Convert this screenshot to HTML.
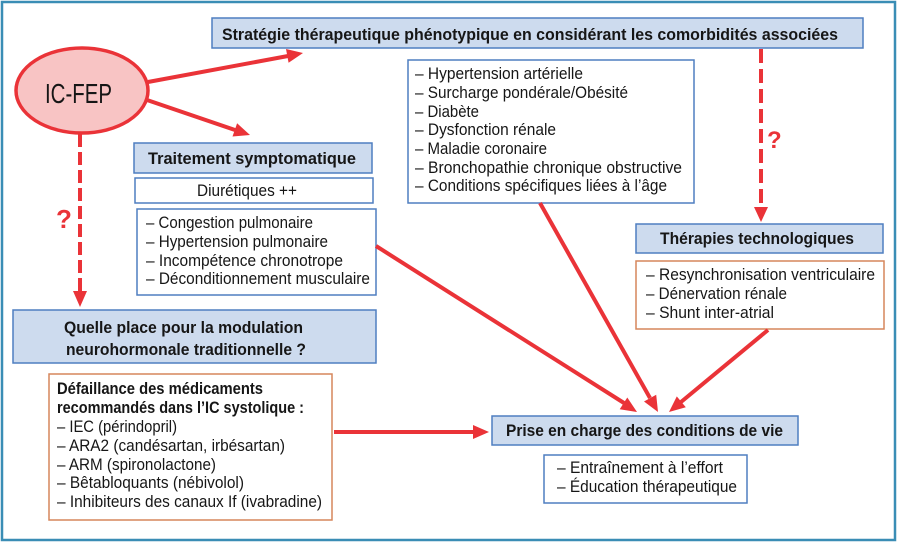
<!DOCTYPE html>
<html><head><meta charset="utf-8"><style>
html,body{margin:0;padding:0;background:#fff;}
svg{display:block;}
text{font-family:"Liberation Sans",Arial,sans-serif;fill:#161616;}
.b{font-weight:bold;font-size:16.5px;}
.r{font-size:16.5px;}
</style></head><body>
<svg width="898" height="543" viewBox="0 0 898 543" xmlns="http://www.w3.org/2000/svg">
<rect x="2" y="2" width="893" height="538" fill="#fff" stroke="#3a8db5" stroke-width="2.5"/>

<!-- boxes -->
<rect x="212" y="18" width="651" height="30" fill="#cddbee" stroke="#4f7ec0" stroke-width="1.5"/>
<text class="b" x="222" y="40" textLength="616" lengthAdjust="spacingAndGlyphs">Stratégie thérapeutique phénotypique en considérant les comorbidités associées</text>

<rect x="134" y="143" width="238" height="30" fill="#cddbee" stroke="#4f7ec0" stroke-width="1.5"/>
<text class="b" x="148" y="164" textLength="208" lengthAdjust="spacingAndGlyphs">Traitement symptomatique</text>

<rect x="135" y="178" width="238" height="25" fill="#fff" stroke="#4f7ec0" stroke-width="1.5"/>
<text class="r" x="197" y="196" textLength="100" lengthAdjust="spacingAndGlyphs">Diurétiques ++</text>

<rect x="137" y="209" width="239" height="86" fill="#fff" stroke="#4f7ec0" stroke-width="1.5"/>
<text class="r" x="146" y="228" textLength="167" lengthAdjust="spacingAndGlyphs">– Congestion pulmonaire</text>
<text class="r" x="146" y="247" textLength="182" lengthAdjust="spacingAndGlyphs">– Hypertension pulmonaire</text>
<text class="r" x="146" y="266" textLength="197" lengthAdjust="spacingAndGlyphs">– Incompétence chronotrope</text>
<text class="r" x="146" y="284" textLength="224" lengthAdjust="spacingAndGlyphs">– Déconditionnement musculaire</text>

<rect x="13" y="310" width="363" height="53" fill="#cddbee" stroke="#4f7ec0" stroke-width="1.5"/>
<text class="b" x="64" y="333" textLength="239" lengthAdjust="spacingAndGlyphs">Quelle place pour la modulation</text>
<text class="b" x="66" y="355" textLength="240" lengthAdjust="spacingAndGlyphs">neurohormonale traditionnelle ?</text>

<rect x="49" y="374" width="283" height="146" fill="#fff" stroke="#d6865b" stroke-width="1.5"/>
<text class="b" x="57" y="394" textLength="206" lengthAdjust="spacingAndGlyphs">Défaillance des médicaments</text>
<text class="b" x="57" y="413" textLength="247" lengthAdjust="spacingAndGlyphs">recommandés dans l’IC systolique :</text>
<text class="r" x="57" y="432" textLength="120" lengthAdjust="spacingAndGlyphs">– IEC (périndopril)</text>
<text class="r" x="57" y="451" textLength="228" lengthAdjust="spacingAndGlyphs">– ARA2 (candésartan, irbésartan)</text>
<text class="r" x="57" y="470" textLength="159" lengthAdjust="spacingAndGlyphs">– ARM (spironolactone)</text>
<text class="r" x="57" y="488" textLength="187" lengthAdjust="spacingAndGlyphs">– Bêtabloquants (nébivolol)</text>
<text class="r" x="57" y="507" textLength="265" lengthAdjust="spacingAndGlyphs">– Inhibiteurs des canaux If (ivabradine)</text>

<rect x="408" y="60" width="286" height="143" fill="#fff" stroke="#4f7ec0" stroke-width="1.5"/>
<text class="r" x="415" y="79" textLength="168" lengthAdjust="spacingAndGlyphs">– Hypertension artérielle</text>
<text class="r" x="415" y="98" textLength="213" lengthAdjust="spacingAndGlyphs">– Surcharge pondérale/Obésité</text>
<text class="r" x="415" y="117" textLength="64" lengthAdjust="spacingAndGlyphs">– Diabète</text>
<text class="r" x="415" y="135" textLength="141" lengthAdjust="spacingAndGlyphs">– Dysfonction rénale</text>
<text class="r" x="415" y="154" textLength="132" lengthAdjust="spacingAndGlyphs">– Maladie coronaire</text>
<text class="r" x="415" y="173" textLength="267" lengthAdjust="spacingAndGlyphs">– Bronchopathie chronique obstructive</text>
<text class="r" x="415" y="191" textLength="252" lengthAdjust="spacingAndGlyphs">– Conditions spécifiques liées à l’âge</text>

<rect x="636" y="224" width="247" height="29" fill="#cddbee" stroke="#4f7ec0" stroke-width="1.5"/>
<text class="b" x="660" y="244" textLength="194" lengthAdjust="spacingAndGlyphs">Thérapies technologiques</text>

<rect x="636" y="261" width="248" height="68" fill="#fff" stroke="#d6865b" stroke-width="1.5"/>
<text class="r" x="646" y="280" textLength="229" lengthAdjust="spacingAndGlyphs">– Resynchronisation ventriculaire</text>
<text class="r" x="646" y="299" textLength="141" lengthAdjust="spacingAndGlyphs">– Dénervation rénale</text>
<text class="r" x="646" y="318" textLength="128" lengthAdjust="spacingAndGlyphs">– Shunt inter-atrial</text>

<rect x="492" y="416" width="306" height="29" fill="#cddbee" stroke="#4f7ec0" stroke-width="1.5"/>
<text class="b" x="506" y="436" textLength="277" lengthAdjust="spacingAndGlyphs">Prise en charge des conditions de vie</text>

<rect x="544" y="455" width="203" height="48" fill="#fff" stroke="#4f7ec0" stroke-width="1.5"/>
<text class="r" x="557" y="473" textLength="166" lengthAdjust="spacingAndGlyphs">– Entraînement à l’effort</text>
<text class="r" x="557" y="492" textLength="180" lengthAdjust="spacingAndGlyphs">– Éducation thérapeutique</text>

<!-- ellipse -->
<ellipse cx="82" cy="90.5" rx="66" ry="42.5" fill="#f8c4c4" stroke="#ea3338" stroke-width="3.5"/>
<text x="45" y="103" font-size="28" textLength="67" lengthAdjust="spacingAndGlyphs">IC-FEP</text>

<!-- arrows -->
<g stroke="#ea3338" stroke-width="4" fill="none">
<line x1="148" y1="82" x2="288" y2="56"/>
<line x1="147" y1="100" x2="235" y2="130"/>
<line x1="376" y1="246" x2="624" y2="403"/>
<line x1="540" y1="203" x2="650" y2="398"/>
<line x1="768" y1="330" x2="681" y2="402"/>
<line x1="334" y1="432" x2="474" y2="432"/>
<line x1="80" y1="134" x2="80" y2="292" stroke-dasharray="13 5"/>
<line x1="761" y1="49" x2="761" y2="208" stroke-dasharray="14 6"/>
</g>
<g fill="#ea3338">
<polygon points="303,53 288.6,62.8 286.0,49.0"/>
<polygon points="250,135 232.5,136.5 237.1,123.3"/>
<polygon points="637,412 619.7,409.3 627.3,397.5"/>
<polygon points="658,412 644.0,401.5 656.2,394.7"/>
<polygon points="669,412 676.8,396.4 685.8,407.2"/>
<polygon points="489,432 473,425 473,439"/>
<polygon points="80,307 73,291 87,291"/>
<polygon points="761,222 754,207 768,207"/>
</g>
<text x="56" y="228" font-size="26" font-weight="bold" style="fill:#ea3338">?</text>
<text x="767" y="148" font-size="24" font-weight="bold" style="fill:#ea3338">?</text>
</svg>
</body></html>
